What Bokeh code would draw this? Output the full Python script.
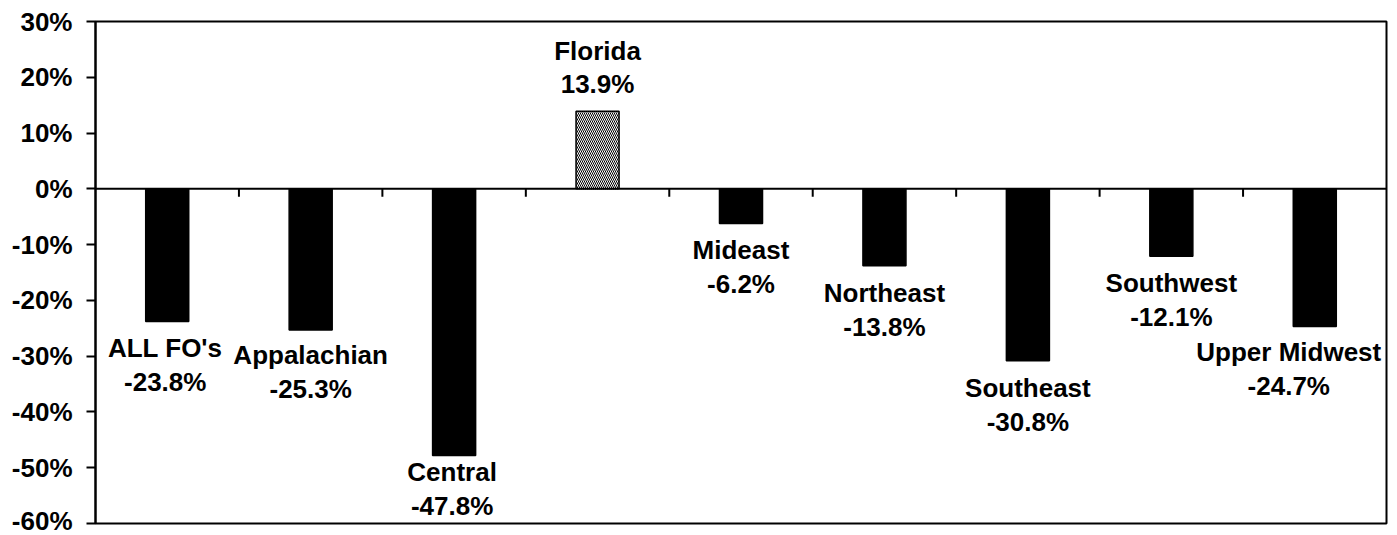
from bokeh.plotting import figure
from bokeh.models import ColumnDataSource, Range1d, FixedTicker, PrintfTickFormatter, Span
from bokeh.embed import file_html
from bokeh.resources import INLINE
from bokeh.core.properties import value

# ---- data ----
categories = ["ALL FO's", "Appalachian", "Central", "Florida", "Mideast",
              "Northeast", "Southeast", "Southwest", "Upper Midwest"]
changes = [-23.8, -25.3, -47.8, 13.9, -6.2, -13.8, -30.8, -12.1, -24.7]
y_ticks = [-60, -50, -40, -30, -20, -10, 0, 10, 20, 30]

# ---- styles ----
FONT = "Liberation Sans"
bar_fill = ["black", "black", "black", "white", "black", "black", "black", "black", "black"]
bar_hatch = [" ", " ", " ", "left_diagonal_line", " ", " ", " ", " ", " "]
label_dx = [-2, 0, -2, 0, 0, 0, 0, 0, -26]      # px tweaks
label_dy = [-1, -2, -10, 0, 0, 0, 0, 0, -2]     # px tweaks

n = len(categories)
xs = [i + 0.5 for i in range(n)]
name_off = []
val_off = []
for v, dy in zip(changes, label_dy):
    if v >= 0:
        name_off.append(-60 + dy)
        val_off.append(-27 + dy)
    else:
        name_off.append(27 + dy)
        val_off.append(61 + dy)

src = ColumnDataSource(dict(
    x=xs, top=changes, name=categories,
    vlabel=[f"{v:.1f}%" for v in changes],
    fill=bar_fill, hatch=bar_hatch,
    dx=label_dx, noff=name_off, voff=val_off,
))

W, H = 1397, 535
BT, BB = 21, 12
p = figure(width=W, height=H, output_backend="svg", toolbar_location=None,
           x_range=Range1d(0, n), y_range=Range1d(min(y_ticks), max(y_ticks)),
           min_border_left=95, min_border_right=11, min_border_top=BT, min_border_bottom=BB)
p.background_fill_color = "white"
p.border_fill_color = "white"
p.outline_line_color = "black"
p.outline_line_width = 2
p.xgrid.visible = False
p.ygrid.visible = False
p.xaxis.visible = False

ya = p.yaxis[0]
ya.ticker = FixedTicker(ticks=y_ticks)
ya.formatter = PrintfTickFormatter(format="%d%%")
ya.axis_line_width = 2
ya.axis_line_color = "black"
ya.major_tick_line_width = 2
ya.major_tick_out = 9
ya.major_tick_in = 0
ya.minor_tick_line_color = None
ya.major_label_standoff = 14
ya.major_label_text_font = FONT
ya.major_label_text_font_style = "bold"
ya.major_label_text_font_size = "26px"
ya.major_label_text_color = "black"

# zero line
p.add_layout(Span(location=0, dimension="width", line_color="black", line_width=2))

# category separator ticks below zero line
frame_h = H - BT - BB
tick_len = 8 * (max(y_ticks) - min(y_ticks)) / frame_h
bx = list(range(1, n))
p.segment(x0=bx, x1=bx, y0=[0] * len(bx), y1=[-tick_len] * len(bx),
          line_color="black", line_width=2)

# bars
p.vbar(x="x", top="top", bottom=0, width=0.3, source=src,
       fill_color="fill", line_color="black", line_width=1.5,
       hatch_pattern="hatch", hatch_color="black", hatch_scale=4, hatch_weight=1)

# labels
common = dict(text_font=value(FONT), text_font_style="bold", text_font_size="26px",
              text_align="center", text_baseline="middle", text_color="black")
p.text(x="x", y="top", text="name", x_offset="dx", y_offset="noff", source=src, **common)
p.text(x="x", y="top", text="vlabel", x_offset="dx", y_offset="voff", source=src, **common)

open("out.html", "w").write(file_html(p, INLINE))
